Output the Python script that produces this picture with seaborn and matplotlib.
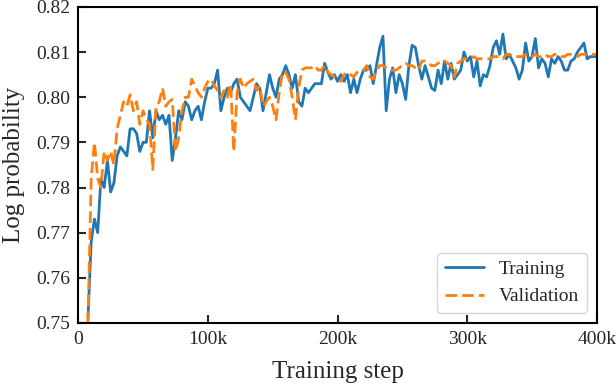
import numpy as np
import pandas as pd
import matplotlib
matplotlib.use("Agg")
import matplotlib.pyplot as plt
import seaborn as sns
from matplotlib.ticker import FuncFormatter

# evaluation steps (every 2.5k, from 7.5k to 400k)
steps = np.arange(7500, 400001, 2500)

train_logprob = [
    0.751, 0.768, 0.773, 0.770, 0.782, 0.780, 0.786, 0.779, 0.781, 0.787,
    0.789, 0.788, 0.787, 0.793, 0.793, 0.792, 0.788, 0.790, 0.790, 0.797,
    0.791, 0.797, 0.795, 0.796, 0.794, 0.796, 0.786, 0.791, 0.797, 0.795,
    0.799, 0.798, 0.795, 0.797, 0.798, 0.795, 0.799, 0.802, 0.802, 0.803,
    0.806, 0.797, 0.800, 0.802, 0.801, 0.803, 0.804, 0.800, 0.799, 0.798,
    0.797, 0.800, 0.803, 0.802, 0.797, 0.801, 0.805, 0.802, 0.800, 0.804,
    0.805, 0.807, 0.805, 0.802, 0.805, 0.799, 0.798, 0.802, 0.801, 0.802,
    0.803, 0.803, 0.803, 0.8075, 0.8055, 0.804, 0.805, 0.8035, 0.805, 0.8035,
    0.805, 0.801, 0.804, 0.801, 0.804, 0.806, 0.806, 0.807, 0.803, 0.807,
    0.811, 0.8135, 0.797, 0.804, 0.8065, 0.801, 0.805, 0.803, 0.7995, 0.807,
    0.8115, 0.811, 0.807, 0.804, 0.807, 0.8045, 0.802, 0.8015, 0.806, 0.803,
    0.808, 0.804, 0.8075, 0.804, 0.805, 0.806, 0.810, 0.808, 0.809, 0.8045,
    0.808, 0.8025, 0.805, 0.8045, 0.807, 0.811, 0.8125, 0.8095, 0.814, 0.8085,
    0.8095, 0.808, 0.8065, 0.804, 0.806, 0.812, 0.808, 0.809, 0.813, 0.8065,
    0.8085, 0.8075, 0.8045, 0.8085, 0.8075, 0.809, 0.808, 0.806, 0.806, 0.808,
    0.8085, 0.810, 0.811, 0.812, 0.8085, 0.809, 0.809, 0.809,
]

val_logprob = [
    0.750, 0.782, 0.790, 0.782, 0.780, 0.788, 0.786, 0.788, 0.785, 0.793,
    0.796, 0.799, 0.798, 0.8005, 0.797, 0.799, 0.794, 0.797, 0.795, 0.794,
    0.784, 0.798, 0.799, 0.802, 0.798, 0.799, 0.7995, 0.788, 0.791, 0.797,
    0.800, 0.800, 0.804, 0.8025, 0.801, 0.800, 0.802, 0.8035, 0.804, 0.8025,
    0.8015, 0.800, 0.8015, 0.800, 0.803, 0.788, 0.801, 0.804, 0.802, 0.803,
    0.8035, 0.804, 0.8015, 0.8025, 0.798, 0.799, 0.800, 0.798, 0.795, 0.801,
    0.8055, 0.8055, 0.804, 0.800, 0.795, 0.802, 0.806, 0.8065, 0.8065, 0.8065,
    0.807, 0.806, 0.806, 0.807, 0.8055, 0.805, 0.8045, 0.804, 0.8035, 0.805,
    0.8055, 0.805, 0.8045, 0.8055, 0.806, 0.806, 0.807, 0.8045, 0.804, 0.806,
    0.807, 0.807, 0.8065, 0.806, 0.806, 0.806, 0.8065, 0.807, 0.8075, 0.807,
    0.807, 0.8065, 0.806, 0.808, 0.808, 0.8075, 0.807, 0.807, 0.8075, 0.808,
    0.808, 0.8075, 0.807, 0.8045, 0.8075, 0.808, 0.8085, 0.8085, 0.8085, 0.809,
    0.8085, 0.8085, 0.8085, 0.8085, 0.8085, 0.809, 0.809, 0.809, 0.8085, 0.8095,
    0.8095, 0.809, 0.809, 0.809, 0.809, 0.8095, 0.809, 0.809, 0.8095, 0.809,
    0.809, 0.8095, 0.809, 0.809, 0.8095, 0.8095, 0.809, 0.809, 0.8095, 0.8095,
    0.8095, 0.809, 0.8095, 0.8095, 0.8095, 0.8095, 0.8095, 0.8095,
]

x_ticks = [0, 100000, 200000, 300000, 400000]
y_ticks = [0.75, 0.76, 0.77, 0.78, 0.79, 0.80, 0.81, 0.82]

df = pd.concat([
    pd.DataFrame({"step": steps, "logprob": train_logprob, "split": "Training"}),
    pd.DataFrame({"step": steps, "logprob": val_logprob, "split": "Validation"}),
])

sns.set_style("ticks")
plt.rcParams["font.family"] = ["Liberation Serif", "DejaVu Serif"]

fig = plt.figure(figsize=(6.16, 3.84), dpi=100)
ax = fig.add_axes([0.127, 0.159, 0.842, 0.823])

sns.lineplot(
    data=df, x="step", y="logprob", hue="split", style="split",
    palette={"Training": "#1f77b4", "Validation": "#ff7f0e"},
    dashes={"Training": "", "Validation": (4.2, 1.8)},
    linewidth=2, ax=ax,
)

ax.set_xlim(0, 400000)
ax.set_ylim(0.75, 0.82)
ax.set_xticks(x_ticks)
ax.set_yticks(y_ticks)
ax.xaxis.set_major_formatter(FuncFormatter(lambda v, p: "0" if v == 0 else f"{int(v / 1000)}k"))
ax.yaxis.set_major_formatter(FuncFormatter(lambda v, p: f"{v:.2f}"))
ax.tick_params(direction="in", length=6, width=1.5, labelsize=14, pad=6)
for s in ax.spines.values():
    s.set_linewidth(1.5)
    s.set_color("black")

ax.set_xlabel("Training step", fontsize=18, labelpad=9)
ax.set_ylabel("Log probability", fontsize=18, labelpad=8)

handles, labels = ax.get_legend_handles_labels()
ax.legend(handles, labels, loc="lower right", fontsize=14, frameon=True,
          handlelength=2.0)

fig.savefig("out.png", dpi=100)
